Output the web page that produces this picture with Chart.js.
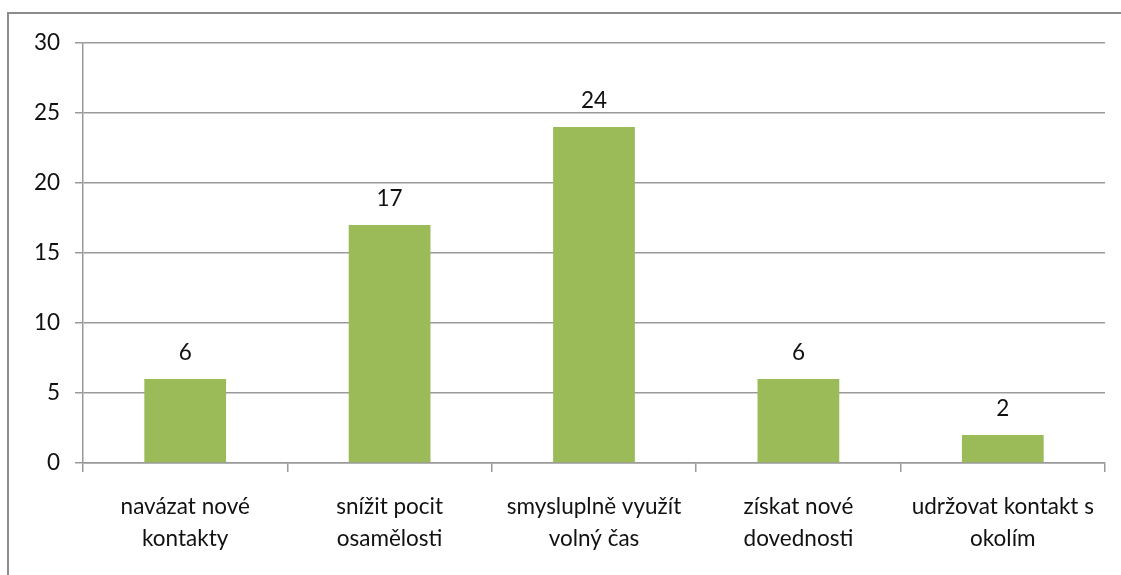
<!DOCTYPE html>
<html>
<head>
<meta charset="utf-8">
<script src="https://cdn.jsdelivr.net/npm/chart.js@4"></script>
<style>
    body { margin: 0; background: #fff; }
    #wrap { position: relative; width: 1121px; height: 575px; overflow: hidden; }
    #frame {
        position: absolute; left: 7px; top: 12px; right: -10px; bottom: -10px;
        border-left: 2px solid #8c8c8c; border-top: 2px solid #8c8c8c;
    }
    #chart { position: absolute; left: 0; top: 0; }
</style>
</head>
<body>
<div id="wrap">
    <div id="frame"></div>
    <canvas id="chart" width="1121" height="575"></canvas>
</div>
<script>
// reasons for taking part, number of answers
const categories = [
    ['navázat nové', 'kontakty'],
    ['snížit pocit', 'osamělosti'],
    ['smysluplně využít', 'volný čas'],
    ['získat nové', 'dovednosti'],
    ['udržovat kontakt s', 'okolím']
];
const answers = [6, 17, 24, 6, 2];
const yTicks = [0, 5, 10, 15, 20, 25, 30];

const FONT = 'Lato, "Open Sans", sans-serif';
const SIZE = 22.5;

// numbers above each bar
const valueLabels = {
    id: 'valueLabels',
    afterDatasetsDraw(chart) {
        const ctx = chart.ctx;
        const meta = chart.getDatasetMeta(0);
        ctx.save();
        ctx.font = SIZE + 'px ' + FONT;
        ctx.fillStyle = '#111';
        ctx.textAlign = 'center';
        ctx.textBaseline = 'middle';
        meta.data.forEach((bar, i) => {
            ctx.fillText(String(answers[i]), bar.x, bar.y - 26);
        });
        ctx.restore();
    }
};

new Chart(document.getElementById('chart').getContext('2d'), {
    type: 'bar',
    data: {
        labels: categories,
        datasets: [{
            data: answers,
            backgroundColor: '#9bbb59',
            borderWidth: 0,
            barPercentage: 0.4,
            categoryPercentage: 1
        }]
    },
    options: {
        responsive: false,
        animation: false,
        layout: { padding: { top: 43, right: 16, left: 0, bottom: 0 } },
        plugins: {
            legend: { display: false },
            tooltip: { enabled: false }
        },
        scales: {
            y: {
                min: 0,
                max: 30,
                afterFit: (scale) => { scale.width = 83; },
                afterBuildTicks: (scale) => {
                    scale.ticks = yTicks.map(v => ({ value: v }));
                },
                ticks: {
                    padding: 15,
                    color: '#111',
                    font: { family: FONT, size: SIZE }
                },
                grid: {
                    color: '#9a9a9a',
                    lineWidth: 1.5,
                    tickLength: 8
                },
                border: { display: true, color: '#9a9a9a', width: 1.5 }
            },
            x: {
                afterFit: (scale) => { scale.height = 575 - 463; },
                ticks: {
                    padding: 19,
                    maxRotation: 0,
                    autoSkip: false,
                    color: '#111',
                    font: { family: FONT, size: SIZE, lineHeight: 1.42 }
                },
                grid: {
                    offset: true,
                    drawOnChartArea: false,
                    drawTicks: true,
                    tickLength: 9,
                    color: '#9a9a9a',
                    lineWidth: 1.5
                },
                border: { display: true, color: '#9a9a9a', width: 1.5 }
            }
        }
    },
    plugins: [valueLabels]
});
</script>
</body>
</html>
